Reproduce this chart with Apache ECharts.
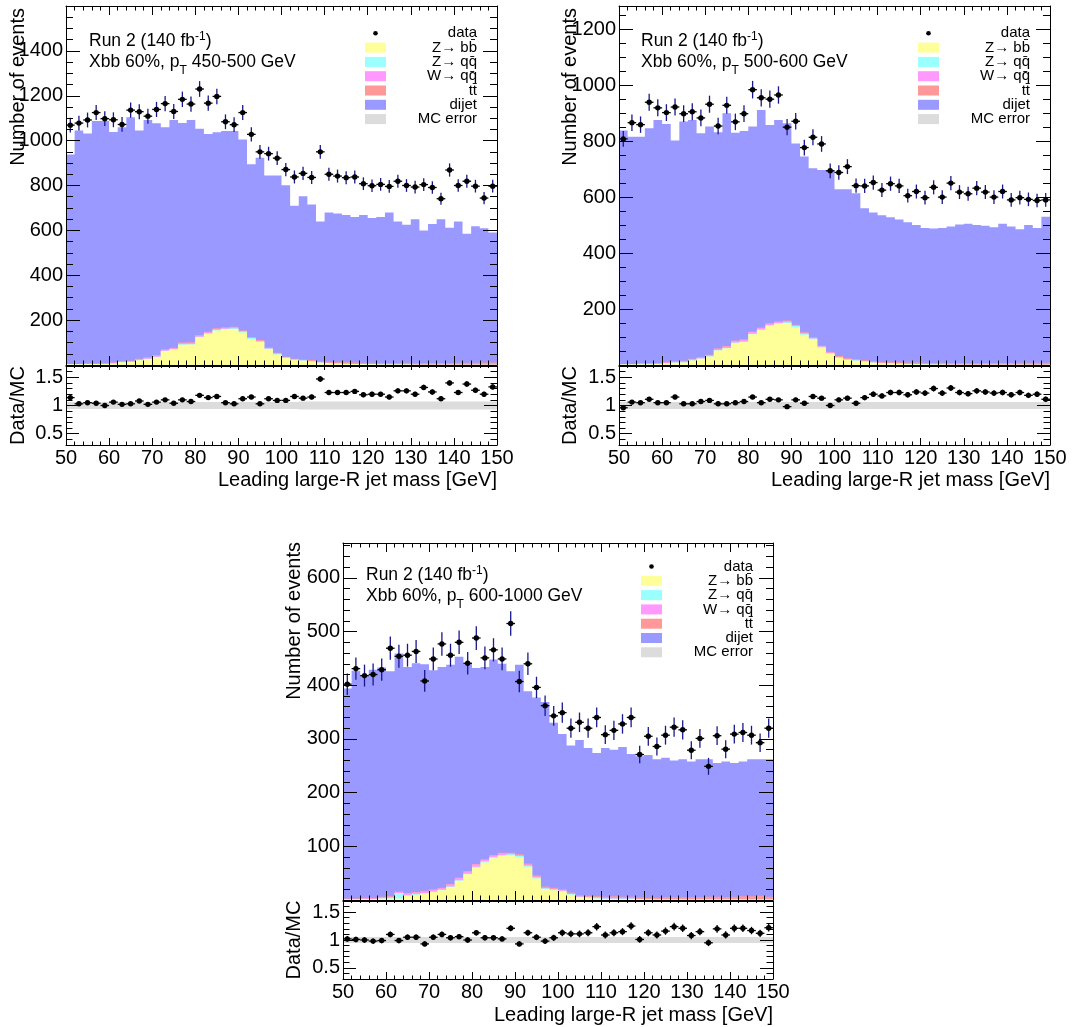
<!DOCTYPE html>
<html>
<head>
<meta charset="utf-8">
<title>Leading large-R jet mass</title>
<script src="https://cdn.jsdelivr.net/npm/echarts@6/dist/echarts.min.js"></script>
<style>
  html, body { margin: 0; padding: 0; background: #fff; }
  #chart { width: 1073px; height: 1027px; }
</style>
</head>
<body>
<div id="chart"></div>
<script>
// ---- binning: 2 GeV bins between 50 and 150 GeV (bin centres) ----
const massBins = [51,53,55,57,59,61,63,65,67,69,71,73,75,77,79,81,83,85,87,89,91,93,95,97,99,
  101,103,105,107,109,111,113,115,117,119,121,123,125,127,129,131,133,135,137,139,141,143,145,147,149];

const ptRanges = ['450-500', '500-600', '600-1000'];

// ---- pT 450-500 GeV ----
const dataA  = [1069,1078,1092,1125,1098,1093,1072,1136,1129,1109,1139,1165,1130,1184,1163,1230,1167,1197,1084,1071,1125,1028,950,942,922,871,838,854,836,950,850,842,835,838,808,799,805,796,819,800,793,804,791,741,869,800,819,797,744,797];
const dijetA = [933,1040,1025,1080,1079,1027,1043,1085,1017,1058,1033,990,1015,978,991,919,881,873,875,873,851,770,813,767,790,764,682,727,693,624,666,663,656,649,658,645,651,671,631,615,642,592,619,641,603,630,575,608,599,579];
const zbbA   = [3,3,4,4,5,6,12,13,21,27,36,62,69,90,91,124,139,154,159,161,145,116,103,70,47,31,22,19,16,10,8,6,5,4,3,3,2,2,2,2,1,1,1,1,1,1,1,1,1,1];
const zqqA   = [0,0,0,0,0,1,1,1,1,1,1,1,1,2,2,2,2,3,3,3,4,4,3,3,3,2,2,2,1,1,1,1,1,1,1,1,0,0,0,0,0,0,0,0,0,0,0,0,0,0];
const wqqA   = [1,1,2,2,2,3,3,4,4,4,5,5,5,6,6,6,5,5,4,4,3,3,2,2,2,1,1,1,1,1,1,1,1,1,1,1,1,1,1,1,0,0,0,0,0,0,0,0,0,0];
const ttA    = [1,1,1,1,1,1,1,1,2,2,2,2,2,2,2,2,2,2,2,2,2,2,3,3,3,3,3,3,4,4,4,4,5,5,5,5,6,6,6,7,7,7,8,8,8,9,9,9,10,10];
const ratioA = [1.14,1.03,1.05,1.04,1.00,1.06,1.02,1.03,1.08,1.02,1.06,1.10,1.04,1.10,1.07,1.18,1.14,1.16,1.05,1.03,1.12,1.15,1.03,1.12,1.09,1.09,1.16,1.13,1.15,1.47,1.23,1.23,1.23,1.25,1.19,1.20,1.20,1.15,1.26,1.26,1.20,1.32,1.24,1.12,1.40,1.23,1.38,1.27,1.20,1.33];
const mcErrA = [0.06,0.06,0.06,0.06,0.06,0.06,0.06,0.06,0.06,0.06,0.06,0.06,0.06,0.06,0.06,0.06,0.06,0.06,0.06,0.06,0.06,0.06,0.06,0.06,0.06,0.06,0.06,0.07,0.07,0.07,0.07,0.07,0.07,0.07,0.07,0.07,0.07,0.07,0.07,0.07,0.07,0.07,0.07,0.07,0.07,0.07,0.07,0.07,0.07,0.07];

// ---- pT 500-600 GeV ----
const dataB  = [808,866,859,939,919,902,922,898,905,883,932,854,928,869,898,984,955,950,965,850,871,777,814,790,694,688,709,641,640,652,625,648,640,605,620,598,635,600,650,618,612,632,618,600,620,590,598,592,588,590];
const dijetB = [834,812,810,840,869,851,789,855,854,800,815,773,832,742,744,732,777,708,720,705,648,628,604,628,650,596,604,593,543,532,524,518,510,501,491,482,481,482,488,495,499,494,491,485,498,488,477,492,482,522];
const zbbB   = [2,2,3,3,4,5,8,9,16,22,30,52,60,78,82,110,125,140,147,150,135,108,92,62,40,26,18,15,12,8,6,5,4,3,3,2,2,2,1,1,1,1,1,1,1,1,1,1,1,1];
const zqqB   = [0,0,0,0,0,1,1,1,1,1,1,1,1,2,2,2,2,3,3,3,4,4,3,3,3,2,2,2,1,1,1,1,1,1,1,1,0,0,0,0,0,0,0,0,0,0,0,0,0,0];
const wqqB   = [1,1,2,2,2,3,3,4,4,4,5,5,5,6,6,6,5,5,4,4,3,3,2,2,2,1,1,1,1,1,1,1,1,1,1,1,1,1,1,1,0,0,0,0,0,0,0,0,0,0];
const ttB    = [1,1,1,1,1,1,1,1,1,1,1,1,2,2,2,2,2,2,2,2,2,2,2,2,2,3,3,3,3,3,3,3,4,4,4,4,4,5,5,5,5,5,6,6,6,6,7,7,7,7];
const ratioB = [0.96,1.06,1.05,1.11,1.05,1.05,1.15,1.03,1.03,1.07,1.09,1.03,1.03,1.05,1.07,1.15,1.05,1.11,1.10,0.98,1.10,1.04,1.16,1.13,1.00,1.10,1.13,1.04,1.14,1.20,1.17,1.23,1.23,1.19,1.24,1.22,1.30,1.22,1.31,1.23,1.21,1.26,1.24,1.22,1.23,1.19,1.23,1.18,1.20,1.11];
const mcErrB = [0.06,0.06,0.06,0.06,0.06,0.06,0.06,0.06,0.06,0.06,0.06,0.06,0.06,0.06,0.06,0.06,0.06,0.06,0.06,0.06,0.06,0.06,0.06,0.06,0.06,0.06,0.06,0.06,0.06,0.06,0.06,0.06,0.06,0.06,0.06,0.06,0.06,0.06,0.06,0.06,0.06,0.06,0.06,0.06,0.06,0.06,0.06,0.06,0.06,0.06];

// ---- pT 600-1000 GeV ----
const dataC  = [402,431,418,420,429,469,454,456,463,408,449,477,456,480,441,488,451,466,449,515,407,440,396,362,343,349,320,331,320,340,308,316,328,340,271,305,286,307,322,317,279,301,249,306,281,309,312,307,293,320];
const dijetC = [391,424,414,425,427,419,443,421,426,422,408,411,408,411,387,365,358,364,352,338,353,321,331,344,307,289,274,289,275,267,277,273,279,266,263,266,258,260,255,257,253,257,256,249,253,249,251,255,254,256];
const zbbC   = [1,1,2,2,3,3,3,8,10,12,15,18,24,36,48,60,70,78,82,83,80,62,40,20,18,16,10,5,4,3,2,2,2,2,2,1,1,1,1,1,1,1,1,1,1,1,1,1,1,1];
const zqqC   = [0,0,0,0,0,1,10,1,1,1,1,1,1,1,1,2,2,2,2,2,2,2,2,2,2,1,1,1,1,1,1,1,1,1,0,0,0,0,0,0,0,0,0,0,0,0,0,0,0,0];
const wqqC   = [1,1,1,1,2,2,2,3,3,3,3,3,4,4,4,4,3,3,3,2,2,2,2,1,1,1,1,1,1,1,1,1,0,0,0,0,0,0,0,0,0,0,0,0,0,0,0,0,0,0];
const ttC    = [1,1,1,1,1,1,1,1,1,1,1,1,1,1,1,1,1,1,1,1,1,2,2,2,2,2,2,2,2,2,2,3,3,3,3,3,3,4,4,4,4,4,5,5,4,5,6,6,7,5];
const ratioC = [1.02,1.01,1.00,0.98,0.99,1.10,0.99,1.05,1.05,0.93,1.05,1.10,1.04,1.06,1.00,1.13,1.04,1.04,1.02,1.21,0.93,1.13,1.05,0.98,1.04,1.13,1.11,1.11,1.13,1.24,1.09,1.13,1.15,1.25,1.01,1.13,1.09,1.16,1.24,1.21,1.08,1.15,0.95,1.20,1.09,1.21,1.21,1.17,1.12,1.22];
const mcErrC = [0.055,0.055,0.055,0.055,0.055,0.055,0.055,0.055,0.055,0.055,0.055,0.055,0.055,0.055,0.055,0.055,0.055,0.055,0.055,0.055,0.055,0.055,0.055,0.055,0.055,0.055,0.055,0.055,0.055,0.055,0.055,0.055,0.055,0.055,0.055,0.055,0.055,0.055,0.055,0.055,0.055,0.055,0.055,0.055,0.055,0.055,0.055,0.055,0.055,0.055];

// ---- axis ranges and tick labels ----
const yMaxA = 1600, yMaxB = 1283, yMaxC = 665;
const yLabelsA = [200, 400, 600, 800, 1000, 1200, 1400];
const yLabelsB = [200, 400, 600, 800, 1000, 1200];
const yLabelsC = [100, 200, 300, 400, 500, 600];
const ratioLabels = [0.5, 1, 1.5];
const ratioMin = 0.3, ratioMax = 1.7;

const legendNames = ['data', 'Z\u2192 bb\u0304', 'Z\u2192 qq\u0304', 'W\u2192 qq\u0304', 'tt\u0304', 'dijet', 'MC error'];

// ---- styling ----
const FONT = '"Liberation Sans", Arial, Helvetica, sans-serif';
const COL = { zbb: '#ffff99', zqq: '#99ffff', wqq: '#ff99ff', tt: '#ff9999', dijet: '#9999ff', err: '#dcdcdc' };
const legendFills = [null, COL.zbb, COL.zqq, COL.wqq, COL.tt, COL.dijet, COL.err];

const panels = [
  { data: dataA, dijet: dijetA, zbb: zbbA, zqq: zqqA, wqq: wqqA, tt: ttA, ratio: ratioA, mcErr: mcErrA,
    pt: ptRanges[0], yMax: yMaxA, yLabels: yLabelsA, yMinor: 50 },
  { data: dataB, dijet: dijetB, zbb: zbbB, zqq: zqqB, wqq: wqqB, tt: ttB, ratio: ratioB, mcErr: mcErrB,
    pt: ptRanges[1], yMax: yMaxB, yLabels: yLabelsB, yMinor: 50 },
  { data: dataC, dijet: dijetC, zbb: zbbC, zqq: zqqC, wqq: wqqC, tt: ttC, ratio: ratioC, mcErr: mcErrC,
    pt: ptRanges[2], yMax: yMaxC, yLabels: yLabelsC, yMinor: 20 }
];

// pixel layout of each pad
const layouts = [
  { left: 66,  width: 431, mainTop: 6,   mainH: 359, ratioTop: 366, ratioH: 79,
    ytX: 18.5, ytTop: 8,   rtY: 405.5, xtRight: 497,  xtY: 480,
    annX: 89,  annY1: 41,  annY2: 62,  legBox: 365, legY: 33.3, legRight: 477 },
  { left: 619, width: 431, mainTop: 6,   mainH: 359, ratioTop: 366, ratioH: 79,
    ytX: 570,  ytTop: 8,   rtY: 405.5, xtRight: 1050, xtY: 480,
    annX: 641, annY1: 41,  annY2: 62,  legBox: 918, legY: 33.3, legRight: 1030 },
  { left: 343, width: 430, mainTop: 543, mainH: 357, ratioTop: 901, ratioH: 78,
    ytX: 294,  ytTop: 542, rtY: 940,   xtRight: 773,  xtY: 1015,
    annX: 366, annY1: 575, annY2: 596, legBox: 641, legY: 566.5, legRight: 753 }
];

const grids = [], xAxes = [], yAxes = [], series = [], graphics = [];

function minorList(step, max, majors) {
  const out = [];
  for (let k = 1; k * step < max - 1e-9; k++) {
    const v = Math.round(k * step * 1000) / 1000;
    if (!majors.some(m => Math.abs(m - v) < 1e-6)) out.push(v);
  }
  return out;
}
function minorListRange(step, lo, hi, majors) {
  const out = [];
  for (let v = lo; v <= hi + 1e-9; v += step) {
    const r = Math.round(v * 1000) / 1000;
    if (!majors.some(m => Math.abs(m - r) < 1e-6)) out.push(r);
  }
  return out;
}

const tickStyle = { color: '#000', width: 1 };
const plainNumber = v => String(v);

function addAxes(g, isRatio, yMin, yMax, majors, labels, minors, lens) {
  // x axes: bottom (with labels on the ratio pad) and a mirrored top axis
  xAxes.push({
    gridIndex: g, type: 'value', min: 50, max: 150, interval: 10, position: 'bottom', z: 10,
    axisLine: { show: true, onZero: false, lineStyle: tickStyle },
    axisTick: { show: true, inside: true, length: lens.xb, lineStyle: tickStyle },
    minorTick: { show: true, splitNumber: 5, length: lens.xbm, lineStyle: tickStyle },
    axisLabel: { show: isRatio, margin: 3, fontSize: 20, color: '#000', fontFamily: FONT, formatter: plainNumber },
    splitLine: { show: false }, minorSplitLine: { show: false }
  });
  xAxes.push({
    gridIndex: g, type: 'value', min: 50, max: 150, interval: 10, position: 'top', z: 10,
    axisLine: { show: true, onZero: false, lineStyle: tickStyle },
    axisTick: { show: true, inside: true, length: lens.xt, lineStyle: tickStyle },
    minorTick: { show: true, splitNumber: 5, length: lens.xtm, lineStyle: tickStyle },
    axisLabel: { show: false }, splitLine: { show: false }, minorSplitLine: { show: false }
  });
  // y axes: left major (labels), left minor, right major, right minor
  ['left', 'right'].forEach(pos => {
    yAxes.push({
      gridIndex: g, type: 'value', min: yMin, max: yMax, position: pos, z: 10,
      axisLine: { show: true, onZero: false, lineStyle: tickStyle },
      axisTick: { show: true, inside: true, length: lens.y, customValues: majors, lineStyle: tickStyle },
      axisLabel: pos === 'left'
        ? { show: true, customValues: labels, margin: 3, fontSize: 20, color: '#000', fontFamily: FONT, formatter: plainNumber }
        : { show: false },
      splitLine: { show: false }
    });
    yAxes.push({
      gridIndex: g, type: 'value', min: yMin, max: yMax, position: pos, z: 10,
      axisLine: { show: false, onZero: false },
      axisTick: { show: true, inside: true, length: lens.ym, customValues: minors, lineStyle: tickStyle },
      axisLabel: { show: false }, splitLine: { show: false }
    });
  });
}

// filled step histogram from 0 up to the given cumulative heights
function stepFill(g, tops, color) {
  return {
    type: 'custom', coordinateSystem: 'cartesian2d', xAxisIndex: 2 * g, yAxisIndex: 4 * g,
    data: [[massBins[0], 0]], clip: true, silent: true, z: 2,
    renderItem: function (params, api) {
      const pts = [api.coord([massBins[0] - 1, 0])];
      massBins.forEach((c, i) => {
        pts.push(api.coord([c - 1, tops[i]]));
        pts.push(api.coord([c + 1, tops[i]]));
      });
      pts.push(api.coord([massBins[massBins.length - 1] + 1, 0]));
      return { type: 'polygon', shape: { points: pts }, style: { fill: color, stroke: null } };
    }
  };
}

// stepped uncertainty band around unity
function errBand(g, rel, color) {
  return {
    type: 'custom', coordinateSystem: 'cartesian2d', xAxisIndex: 2 * g, yAxisIndex: 4 * g,
    data: [[massBins[0], 1]], clip: true, silent: true, z: 2,
    renderItem: function (params, api) {
      const pts = [];
      massBins.forEach((c, i) => {
        pts.push(api.coord([c - 1, 1 + rel[i]]));
        pts.push(api.coord([c + 1, 1 + rel[i]]));
      });
      for (let i = massBins.length - 1; i >= 0; i--) {
        pts.push(api.coord([massBins[i] + 1, 1 - rel[i]]));
        pts.push(api.coord([massBins[i] - 1, 1 - rel[i]]));
      }
      return { type: 'polygon', shape: { points: pts }, style: { fill: color, stroke: null } };
    }
  };
}

// markers with bin-width horizontal bars and vertical uncertainty bars
function markers(g, values, errs, vColor) {
  return {
    type: 'custom', coordinateSystem: 'cartesian2d', xAxisIndex: 2 * g, yAxisIndex: 4 * g,
    data: massBins.map((c, i) => [c, values[i], errs[i]]), clip: true, silent: true, z: 4,
    renderItem: function (params, api) {
      const x = api.value(0), y = api.value(1), e = api.value(2);
      const pl = api.coord([x - 1, y]), pr = api.coord([x + 1, y]);
      const pt = api.coord([x, y + e]), pb = api.coord([x, y - e]);
      const pc = api.coord([x, y]);
      return {
        type: 'group', children: [
          { type: 'line', shape: { x1: pl[0], y1: pl[1], x2: pr[0], y2: pr[1] }, style: { stroke: '#000', lineWidth: 1.3 } },
          { type: 'line', shape: { x1: pt[0], y1: pt[1], x2: pb[0], y2: pb[1] }, style: { stroke: vColor, lineWidth: 1.3 } },
          { type: 'circle', shape: { cx: pc[0], cy: pc[1], r: 2.7 }, style: { fill: '#000', stroke: null } }
        ]
      };
    }
  };
}

function txt(x, y, text, size, align, vAlign, rotation, extra) {
  return {
    type: 'text', x: x, y: y, rotation: rotation || 0, z: 100, silent: true,
    style: Object.assign({ text: text, fill: '#000', fontSize: size, fontFamily: FONT,
      align: align, verticalAlign: vAlign }, extra || {})
  };
}

panels.forEach((p, k) => {
  const L = layouts[k];
  const gMain = 2 * k, gRatio = 2 * k + 1;
  grids.push({ left: L.left, top: L.mainTop, width: L.width, height: L.mainH, show: false });
  grids.push({ left: L.left, top: L.ratioTop, width: L.width, height: L.ratioH, show: false });

  const majorsMain = p.yLabels.slice();
  addAxes(gMain, false, 0, p.yMax, majorsMain, p.yLabels, minorList(p.yMinor, p.yMax, majorsMain),
    { xb: 9, xbm: 4.5, xt: 9, xtm: 4.5, y: 14, ym: 7 });
  addAxes(gRatio, true, ratioMin, ratioMax, ratioLabels, ratioLabels,
    minorListRange(0.1, ratioMin, ratioMax, ratioLabels),
    { xb: 7, xbm: 3.5, xt: 4, xtm: 2, y: 13, ym: 6.5 });

  // cumulative stack heights (bottom to top: Z->bb, Z->qq, W->qq, ttbar, dijet)
  const c1 = p.zbb.slice();
  const c2 = c1.map((v, i) => v + p.zqq[i]);
  const c3 = c2.map((v, i) => v + p.wqq[i]);
  const c4 = c3.map((v, i) => v + p.tt[i]);
  const c5 = c4.map((v, i) => v + p.dijet[i]);
  series.push(stepFill(gMain, c5, COL.dijet));
  series.push(stepFill(gMain, c4, COL.tt));
  series.push(stepFill(gMain, c3, COL.wqq));
  series.push(stepFill(gMain, c2, COL.zqq));
  series.push(stepFill(gMain, c1, COL.zbb));
  series.push(markers(gMain, p.data, p.data.map(v => Math.sqrt(v)), '#18188c'));

  series.push(errBand(gRatio, p.mcErr, COL.err));
  series.push(markers(gRatio, p.ratio, p.ratio.map((r, i) => r / Math.sqrt(p.data[i])), '#000'));

  // axis titles
  graphics.push(txt(L.ytX, L.ytTop, 'Number of events', 20, 'right', 'middle', Math.PI / 2));
  graphics.push(txt(L.ytX, L.rtY, 'Data/MC', 20, 'center', 'middle', Math.PI / 2));
  graphics.push(txt(L.xtRight, L.xtY, 'Leading large-R jet mass [GeV]', 20, 'right', 'middle'));

  // labels inside the pad
  graphics.push(txt(L.annX, L.annY1, 'Run 2 (140 fb{sup|-1})', 17.5, 'left', 'middle', 0, {
    lineHeight: 20,
    rich: { sup: { fontSize: 12, fontFamily: FONT, lineHeight: 12, verticalAlign: 'top', fill: '#000' } }
  }));
  graphics.push(txt(L.annX, L.annY2, 'Xbb 60%, p{sub|T} ' + p.pt + ' GeV', 17.5, 'left', 'middle', 0, {
    lineHeight: 30,
    rich: { sub: { fontSize: 12, fontFamily: FONT, lineHeight: 12, verticalAlign: 'bottom', fill: '#000' } }
  }));

  // legend
  legendNames.forEach((name, i) => {
    const yRow = L.legY + i * 14.3;
    if (i === 0) {
      graphics.push({ type: 'circle', z: 100, silent: true, shape: { cx: L.legBox + 10.5, cy: yRow, r: 2.3 }, style: { fill: '#000' } });
    } else {
      graphics.push({ type: 'rect', z: 100, silent: true, shape: { x: L.legBox, y: yRow - 5, width: 21, height: 10 },
        style: { fill: legendFills[i] } });
    }
    graphics.push(txt(L.legRight, yRow, name, 15, 'right', 'middle'));
  });
});

const chart = echarts.init(document.getElementById('chart'), null, { renderer: 'canvas' });
chart.setOption({
  backgroundColor: '#ffffff',
  animation: false,
  grid: grids,
  xAxis: xAxes,
  yAxis: yAxes,
  series: series,
  graphic: { elements: graphics }
});
</script>
</body>
</html>
